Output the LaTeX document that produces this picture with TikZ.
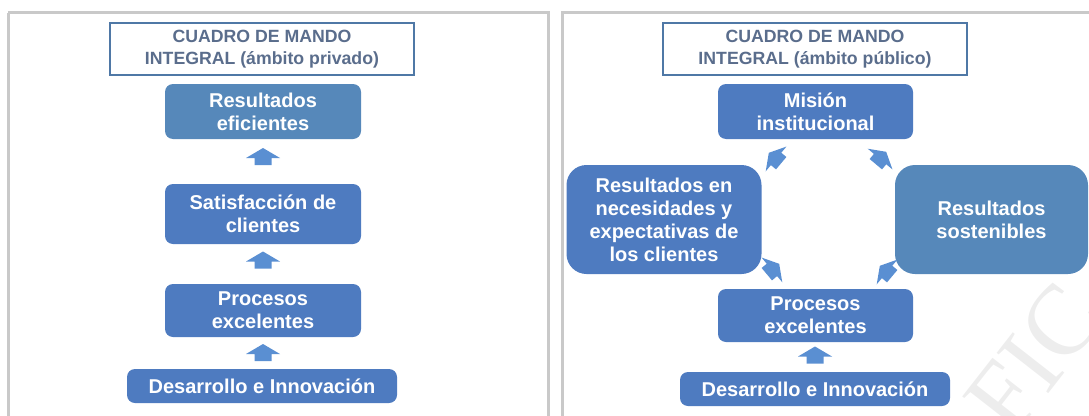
\documentclass[tikz,border=0pt]{standalone}
\usepackage{fontspec}
\setmainfont{Liberation Sans}
\newfontfamily\wmfont{Liberation Serif}
\definecolor{panelgray}{HTML}{C9C9C9}
\definecolor{titleblue}{HTML}{4F78A6}
\definecolor{titletext}{HTML}{5A6D8C}
\definecolor{boxdark}{HTML}{4E7BC0}
\definecolor{boxlight}{HTML}{5688BA}
\definecolor{arrowblue}{HTML}{5A8FD2}
\definecolor{wmgray}{HTML}{EDEDED}
\newcommand{\blockarrow}[4]{%
  \fill[arrowblue, shift={(#1,#2)}, rotate=#3, scale=#4]
    (0,-8.5) -- (17,1.5) -- (8.5,1.5) -- (8.5,8.5) -- (-8.5,8.5) -- (-8.5,1.5) -- (-17,1.5) -- cycle;}
\tikzset{
  panel/.style={draw=panelgray, line width=3pt},
  titlebox/.style={draw=titleblue, line width=1.6pt, fill=white, minimum width=304pt, minimum height=52pt,
    inner sep=0pt, align=center, text=titletext, font=\fontsize{17.7}{22}\selectfont\bfseries},
  stepbox/.style={rounded corners=8pt, inner sep=0pt, align=center, text=white,
    font=\fontsize{20}{23}\selectfont\bfseries},
  darkbox/.style={stepbox, fill=boxdark},
  lightbox/.style={stepbox, fill=boxlight},
}
\begin{document}
\begin{tikzpicture}[x=1pt, y=-1pt]
\useasboundingbox (0,0) rectangle (1089,415);
\begin{scope}
\clip (0,0) rectangle (1089,415);
% watermark
\node[rotate=52, anchor=base west, inner sep=0pt, text=wmgray, font=\wmfont\fontsize{100}{100}\selectfont] (wm) at (1012,440) {FIC};
% panels
\draw[panel] (8,12.5) -- (548.5,12.5) -- (548.5,430);
\draw[panel] (8,430) -- (8,12.5);
\draw[panel] (562,430) -- (562,12.5) -- (1100,12.5);

% ---------- left panel ----------
\node[titlebox] (tL) at (262,49) {CUADRO DE MANDO\\INTEGRAL (ámbito privado)};
\node[lightbox, minimum width=196pt, minimum height=55pt] (rE) at (263,111.5) {Resultados\\eficientes};
\node[darkbox, minimum width=196pt, minimum height=60pt] (sC) at (263,214) {Satisfacción de\\clientes};
\node[darkbox, minimum width=196pt, minimum height=53pt] (pE) at (263,310.5) {Procesos\\excelentes};
\node[darkbox, minimum width=270pt, minimum height=34pt] (dI) at (262,386) {Desarrollo e Innovación};
\blockarrow{263}{156.5}{0}{1}
\blockarrow{263}{260}{0}{1}
\blockarrow{263}{352.5}{0}{1}

% ---------- right panel ----------
\node[titlebox] (tR) at (815,49) {CUADRO DE MANDO\\INTEGRAL (ámbito público)};
\node[darkbox, minimum width=195pt, minimum height=55pt] (mI) at (815.5,111.5) {Misión\\institucional};
\node[darkbox, rounded corners=20pt, minimum width=195pt, minimum height=109pt] (rN) at (664,219.5) {Resultados en\\necesidades y\\expectativas de\\los clientes};
\node[lightbox, rounded corners=20pt, minimum width=193pt, minimum height=109pt] (rS) at (991.5,219.5) {Resultados\\sostenibles};
\node[darkbox, minimum width=195pt, minimum height=53pt] (pR) at (815.5,315.5) {Procesos\\excelentes};
\node[darkbox, minimum width=270pt, minimum height=34pt] (dR) at (815,389) {Desarrollo e Innovación};
\blockarrow{815}{355}{0}{1}
\blockarrow{775}{158}{50}{0.95}
\blockarrow{881}{158}{-40}{0.95}
\blockarrow{773}{269}{-50}{0.95}
\blockarrow{886}{271}{50}{0.95}
\end{scope}
\end{tikzpicture}
\end{document}
